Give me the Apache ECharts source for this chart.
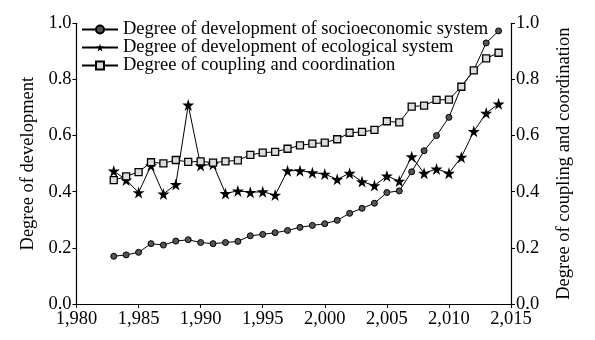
<!DOCTYPE html>
<html><head><meta charset="utf-8">
<script src="https://cdn.jsdelivr.net/npm/echarts@6/dist/echarts.min.js"></script>
<style>html,body{margin:0;padding:0;background:#fff}#c{width:595px;height:340px}</style>
</head><body><div id="c"></div>
<script>
const years = [1983,1984,1985,1986,1987,1988,1989,1990,1991,1992,1993,1994,1995,1996,1997,1998,1999,2000,2001,2002,2003,2004,2005,2006,2007,2008,2009,2010,2011,2012,2013,2014];
const socio = [0.170,0.175,0.184,0.215,0.210,0.224,0.229,0.219,0.215,0.219,0.223,0.243,0.248,0.254,0.262,0.273,0.280,0.286,0.298,0.323,0.341,0.359,0.397,0.403,0.471,0.546,0.600,0.665,0.774,0.833,0.930,0.973];
const eco = [0.474,0.442,0.397,0.493,0.392,0.426,0.709,0.493,0.498,0.394,0.403,0.398,0.400,0.388,0.475,0.475,0.468,0.463,0.444,0.466,0.436,0.422,0.456,0.438,0.525,0.466,0.481,0.466,0.523,0.615,0.680,0.713];
const coupling = [0.441,0.455,0.470,0.505,0.501,0.513,0.506,0.508,0.504,0.508,0.512,0.531,0.539,0.542,0.553,0.565,0.571,0.575,0.587,0.610,0.613,0.620,0.651,0.647,0.703,0.707,0.727,0.728,0.774,0.832,0.875,0.895];
const names = ['Degree of development of socioeconomic system','Degree of development of ecological system','Degree of coupling and coordination'];
const leftTitle = 'Degree of development';
const rightTitle = 'Degree of coupling and coordination';

const F = 'Liberation Serif, Times New Roman, serif';
const FS = 18.5;
const pairs = arr => years.map((y,i)=>[y,arr[i]]);
const yAx = (pos, title) => ({
  type:'value', position:pos, min:0, max:1, interval:0.2,
  name:title, nameLocation:'middle', nameGap:pos==='left'?39:44, nameRotate:90,
  nameTextStyle:{fontFamily:F,fontSize:FS,color:'#000'},
  axisLine:{show:true,lineStyle:{color:'#000',width:1.2}},
  axisTick:{show:true,inside:false,length:4,lineStyle:{color:'#000'}},
  axisLabel:{fontFamily:F,fontSize:FS,color:'#000',margin:5,formatter:v=>v.toFixed(1)},
  splitLine:{show:false}
});
const chart = echarts.init(document.getElementById('c'),null,{renderer:'canvas'});
chart.setOption({
  animation:false,
  backgroundColor:'#fff',
  grid:{left:76.5,right:84,top:23.3,bottom:36},
  legend:{
    orient:'vertical', left:76, top:15, itemGap:-1, itemWidth:36, itemHeight:10,
    textStyle:{fontFamily:F,fontSize:FS,color:'#000'},
    data:names
  },
  xAxis:{
    type:'value', min:1980, max:2015, interval:5,
    axisLine:{show:true,lineStyle:{color:'#000',width:1.2}},
    axisTick:{show:true,inside:false,length:4,lineStyle:{color:'#000'}},
    axisLabel:{fontFamily:F,fontSize:FS,color:'#000',margin:6},
    splitLine:{show:false}
  },
  yAxis:[yAx('left',leftTitle), yAx('right',rightTitle)],
  series:[
    {name:names[0],type:'line',data:pairs(socio),symbol:'circle',symbolSize:6,
      lineStyle:{color:'#000',width:1},itemStyle:{color:'#555',borderColor:'#000',borderWidth:1}},
    {name:names[1],type:'line',data:pairs(eco),
      symbol:'path://M50,0 L61,35 L98,35 L68,57 L79,91 L50,70 L21,91 L32,57 L2,35 L39,35 Z',symbolSize:12,
      lineStyle:{color:'#000',width:1},itemStyle:{color:'#000',borderColor:'#000',borderWidth:0}},
    {name:names[2],type:'line',yAxisIndex:1,data:pairs(coupling),symbol:'rect',symbolSize:7,
      lineStyle:{color:'#000',width:1},itemStyle:{color:'#ddd',borderColor:'#000',borderWidth:1.3}}
  ]
});
</script></body></html>
